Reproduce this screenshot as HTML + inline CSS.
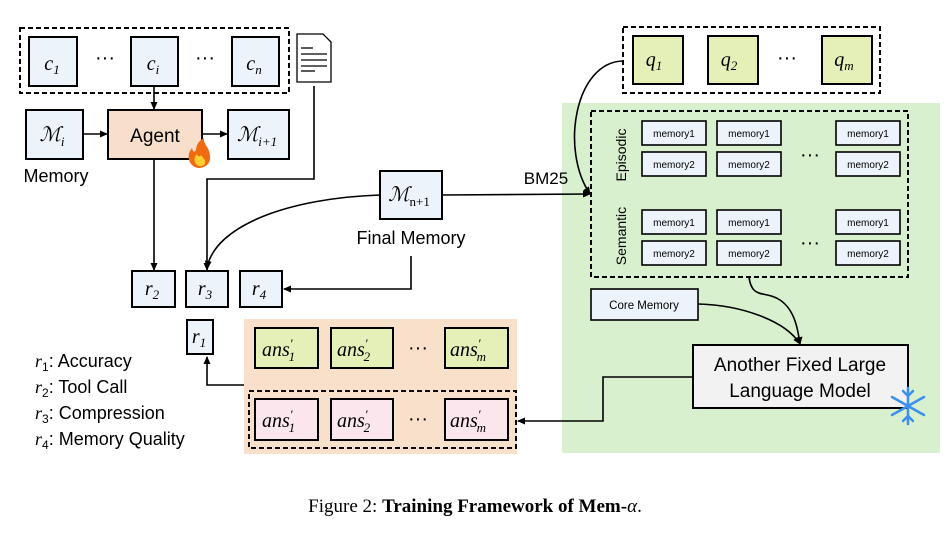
<!DOCTYPE html>
<html><head><meta charset="utf-8"><style>
body{margin:0;background:#fff;}
svg text{font-family:"Liberation Sans",sans-serif;}
svg .m, svg .m text{font-family:"Liberation Serif",serif;font-style:italic;}
</style></head><body>
<svg width="951" height="536" viewBox="0 0 951 536" xmlns="http://www.w3.org/2000/svg">
<defs>
<marker id="a" markerWidth="8" markerHeight="8" refX="7" refY="4" orient="auto" markerUnits="userSpaceOnUse"><path d="M0,0.5 L8,4 L0,7.5 z" fill="#000"/></marker>
</defs>
<g stroke="#000" stroke-width="2">
<rect x="562" y="103" width="378" height="350" fill="#d9f0cf" stroke="none"/>
<rect x="244" y="319" width="273" height="135" fill="#f8e0cb" stroke="none"/>
<rect x="20" y="28" width="269" height="65" fill="none" stroke-dasharray="5,3"/>
<rect x="29" y="37" width="48" height="49" fill="#edf3fb"/>
<rect x="131" y="37" width="47" height="49" fill="#edf3fb"/>
<rect x="232" y="37" width="47" height="49" fill="#edf3fb"/>
<path d="M297,34 L323,34 L331,42 L331,82 L297,82 Z" fill="#fff" stroke-width="1.3"/>
<g stroke-width="1.3"><line x1="301" y1="48" x2="313" y2="48"/><line x1="301" y1="54" x2="327" y2="54"/><line x1="301" y1="60" x2="327" y2="60"/><line x1="301" y1="66" x2="327" y2="66"/><line x1="301" y1="71" x2="315" y2="71"/></g>
<rect x="26" y="110" width="57" height="49" fill="#edf3fb"/>
<rect x="108" y="110" width="94" height="49" fill="#f8dfcc"/>
<rect x="228" y="110" width="61" height="49" fill="#edf3fb"/>
<rect x="380" y="171" width="62" height="48" fill="#edf3fb"/>
<rect x="132" y="271" width="43" height="36" fill="#edf3fb"/>
<rect x="186" y="271" width="42" height="36" fill="#edf3fb"/>
<rect x="240" y="271" width="42" height="36" fill="#edf3fb"/>
<rect x="187" y="320" width="26" height="34" fill="#edf3fb"/>
<rect x="255" y="328" width="63" height="40" fill="#e5f0b8"/>
<rect x="331" y="328" width="62" height="40" fill="#e5f0b8"/>
<rect x="445" y="328" width="63" height="40" fill="#e5f0b8"/>
<rect x="249" y="391" width="267" height="57" fill="none" stroke-dasharray="5,3"/>
<rect x="255" y="399" width="63" height="41" fill="#fbe6ee"/>
<rect x="331" y="399" width="62" height="41" fill="#fbe6ee"/>
<rect x="445" y="399" width="63" height="41" fill="#fbe6ee"/>
<rect x="623" y="27" width="257" height="66" fill="#fff" stroke-dasharray="5,3"/>
<rect x="633" y="36" width="50" height="48" fill="#e5f0b8"/>
<rect x="708" y="36" width="50" height="48" fill="#e5f0b8"/>
<rect x="822" y="36" width="50" height="48" fill="#e5f0b8"/>
<rect x="591" y="111" width="317" height="166" fill="none" stroke-dasharray="5,3"/>
<g fill="#edf3fb" stroke-width="1.6">
<rect x="642" y="121" width="64" height="24"/><rect x="717" y="121" width="64" height="24"/><rect x="836" y="121" width="64" height="24"/>
<rect x="642" y="152" width="64" height="24"/><rect x="717" y="152" width="64" height="24"/><rect x="836" y="152" width="64" height="24"/>
<rect x="642" y="210" width="64" height="24"/><rect x="717" y="210" width="64" height="24"/><rect x="836" y="210" width="64" height="24"/>
<rect x="642" y="241" width="64" height="24"/><rect x="717" y="241" width="64" height="24"/><rect x="836" y="241" width="64" height="24"/>
<rect x="591" y="289" width="107" height="31"/>
</g>
<rect x="693" y="345" width="215" height="63" fill="#f2f2f2"/>
<g fill="none" stroke-width="1.6">
<line x1="154" y1="86" x2="154" y2="109" marker-end="url(#a)"/>
<line x1="83" y1="134" x2="107" y2="134" marker-end="url(#a)"/>
<line x1="202" y1="134" x2="227" y2="134" marker-end="url(#a)"/>
<line x1="154" y1="159" x2="154" y2="270" marker-end="url(#a)"/>
<polyline points="314,86 314,179 207,179 207,270" marker-end="url(#a)"/>
<path d="M380,195 C290,198 215,225 207,268" marker-end="url(#a)"/>
<polyline points="411,256 411,289 284,289" marker-end="url(#a)"/>
<line x1="442" y1="195" x2="590" y2="194" marker-end="url(#a)"/>
<path d="M623,61 C575,62 560,150 590,194" marker-end="url(#a)"/>
<polyline points="244,385 207,385 207,357" marker-end="url(#a)"/>
<path d="M749,277 C752,300 765,290 780,300 C795,310 798,330 800,344" marker-end="url(#a)"/>
<path d="M698,304 C740,305 785,320 800,344" marker-end="url(#a)"/>
<polyline points="693,377 603,377 603,421 518,421" marker-end="url(#a)"/>
</g>
</g>
<path d="M198,168 C188,166 186,155 192,148 C193,153 195,152 196,150 C196,144 200,140 204,138 C203,144 210,148 210,156 C211,163 206,168 198,168 Z" fill="#f06a10"/>
<path d="M199,166 C194,164 193,158 197,154 C198,157 200,157 201,155 C203,158 206,160 205,163 C204,166 202,166 199,166 Z" fill="#ffd030"/>
<g stroke="#3b8ff0" stroke-width="2.5" stroke-linecap="round">
<line x1="908" y1="388" x2="908" y2="424"/><line x1="892" y1="397" x2="924" y2="415"/><line x1="892" y1="415" x2="924" y2="397"/>
<polyline points="903,391 908,396 913,391" fill="none"/><polyline points="903,421 908,416 913,421" fill="none"/>
</g>
<g font-size="20" text-anchor="middle">
<text class="m" x="52" y="70">c<tspan font-size="13" dy="4">1</tspan></text>
<text class="m" x="153" y="70">c<tspan font-size="13" dy="4">i</tspan></text>
<text class="m" x="254" y="70">c<tspan font-size="13" dy="4">n</tspan></text>
<text x="105" y="64">···</text><text x="205" y="64">···</text>
<text class="m" x="52" y="141">ℳ<tspan font-size="13" dy="5">i</tspan></text>
<text x="155" y="142" font-size="19">Agent</text>
<text class="m" x="257" y="141">ℳ<tspan font-size="13" dy="5">i+1</tspan></text>
<text x="56" y="182" font-size="18">Memory</text>
<text class="m" x="409" y="201">ℳ<tspan font-size="13" dy="5" font-style="normal">n+1</tspan></text>
<text x="411" y="244" font-size="18">Final Memory</text>
<text x="546" y="184" font-size="17">BM25</text>
<text class="m" x="152" y="295">r<tspan font-size="13" dy="4">2</tspan></text>
<text class="m" x="205" y="295">r<tspan font-size="13" dy="4">3</tspan></text>
<text class="m" x="259" y="295">r<tspan font-size="13" dy="4">4</tspan></text>
<text class="m" x="199" y="343">r<tspan font-size="13" dy="4">1</tspan></text>
<text class="m" x="654" y="66">q<tspan font-size="13" dy="4">1</tspan></text>
<text class="m" x="729" y="66">q<tspan font-size="13" dy="4">2</tspan></text>
<text class="m" x="844" y="66">q<tspan font-size="13" dy="4">m</tspan></text>
<text x="787" y="64">···</text>
<text x="810" y="161">···</text><text x="810" y="249">···</text>
<text x="418" y="354">···</text><text x="418" y="425">···</text>
</g>
<g class="m" font-size="20">
<text x="262" y="356">ans<tspan font-size="13" dy="-8">′</tspan><tspan font-size="13" dx="-4" dy="13">1</tspan></text>
<text x="337" y="356">ans<tspan font-size="13" dy="-8">′</tspan><tspan font-size="13" dx="-4" dy="13">2</tspan></text>
<text x="450" y="356">ans<tspan font-size="13" dy="-8">′</tspan><tspan font-size="13" dx="-4" dy="13">m</tspan></text>
<text x="262" y="427">ans<tspan font-size="13" dy="-8">′</tspan><tspan font-size="13" dx="-4" dy="13">1</tspan></text>
<text x="337" y="427">ans<tspan font-size="13" dy="-8">′</tspan><tspan font-size="13" dx="-4" dy="13">2</tspan></text>
<text x="450" y="427">ans<tspan font-size="13" dy="-8">′</tspan><tspan font-size="13" dx="-4" dy="13">m</tspan></text>
</g>
<g font-size="10" text-anchor="middle">
<text x="674" y="137">memory1</text><text x="749" y="137">memory1</text><text x="868" y="137">memory1</text>
<text x="674" y="168">memory2</text><text x="749" y="168">memory2</text><text x="868" y="168">memory2</text>
<text x="674" y="226">memory1</text><text x="749" y="226">memory1</text><text x="868" y="226">memory1</text>
<text x="674" y="257">memory2</text><text x="749" y="257">memory2</text><text x="868" y="257">memory2</text>
<text x="644" y="309" font-size="11.5">Core Memory</text>
</g>
<text x="626" y="155" font-size="14" text-anchor="middle" transform="rotate(-90 626 155)">Episodic</text>
<text x="626" y="236" font-size="14" text-anchor="middle" transform="rotate(-90 626 236)">Semantic</text>
<text x="800" y="371" font-size="19" text-anchor="middle">Another Fixed Large</text>
<text x="800" y="397" font-size="19" text-anchor="middle">Language Model</text>
<g font-size="18">
<text x="35" y="367"><tspan class="m">r</tspan><tspan font-size="12" dy="4">1</tspan><tspan dy="-4">: Accuracy</tspan></text>
<text x="35" y="393"><tspan class="m">r</tspan><tspan font-size="12" dy="4">2</tspan><tspan dy="-4">: Tool Call</tspan></text>
<text x="35" y="419"><tspan class="m">r</tspan><tspan font-size="12" dy="4">3</tspan><tspan dy="-4">: Compression</tspan></text>
<text x="35" y="445"><tspan class="m">r</tspan><tspan font-size="12" dy="4">4</tspan><tspan dy="-4">: Memory Quality</tspan></text>
</g>
<text x="475" y="512" font-size="19" text-anchor="middle" style="font-family:'Liberation Serif',serif">Figure 2: <tspan font-weight="bold">Training Framework of Mem-</tspan><tspan font-style="italic">α</tspan>.</text>
</svg>
</body></html>
